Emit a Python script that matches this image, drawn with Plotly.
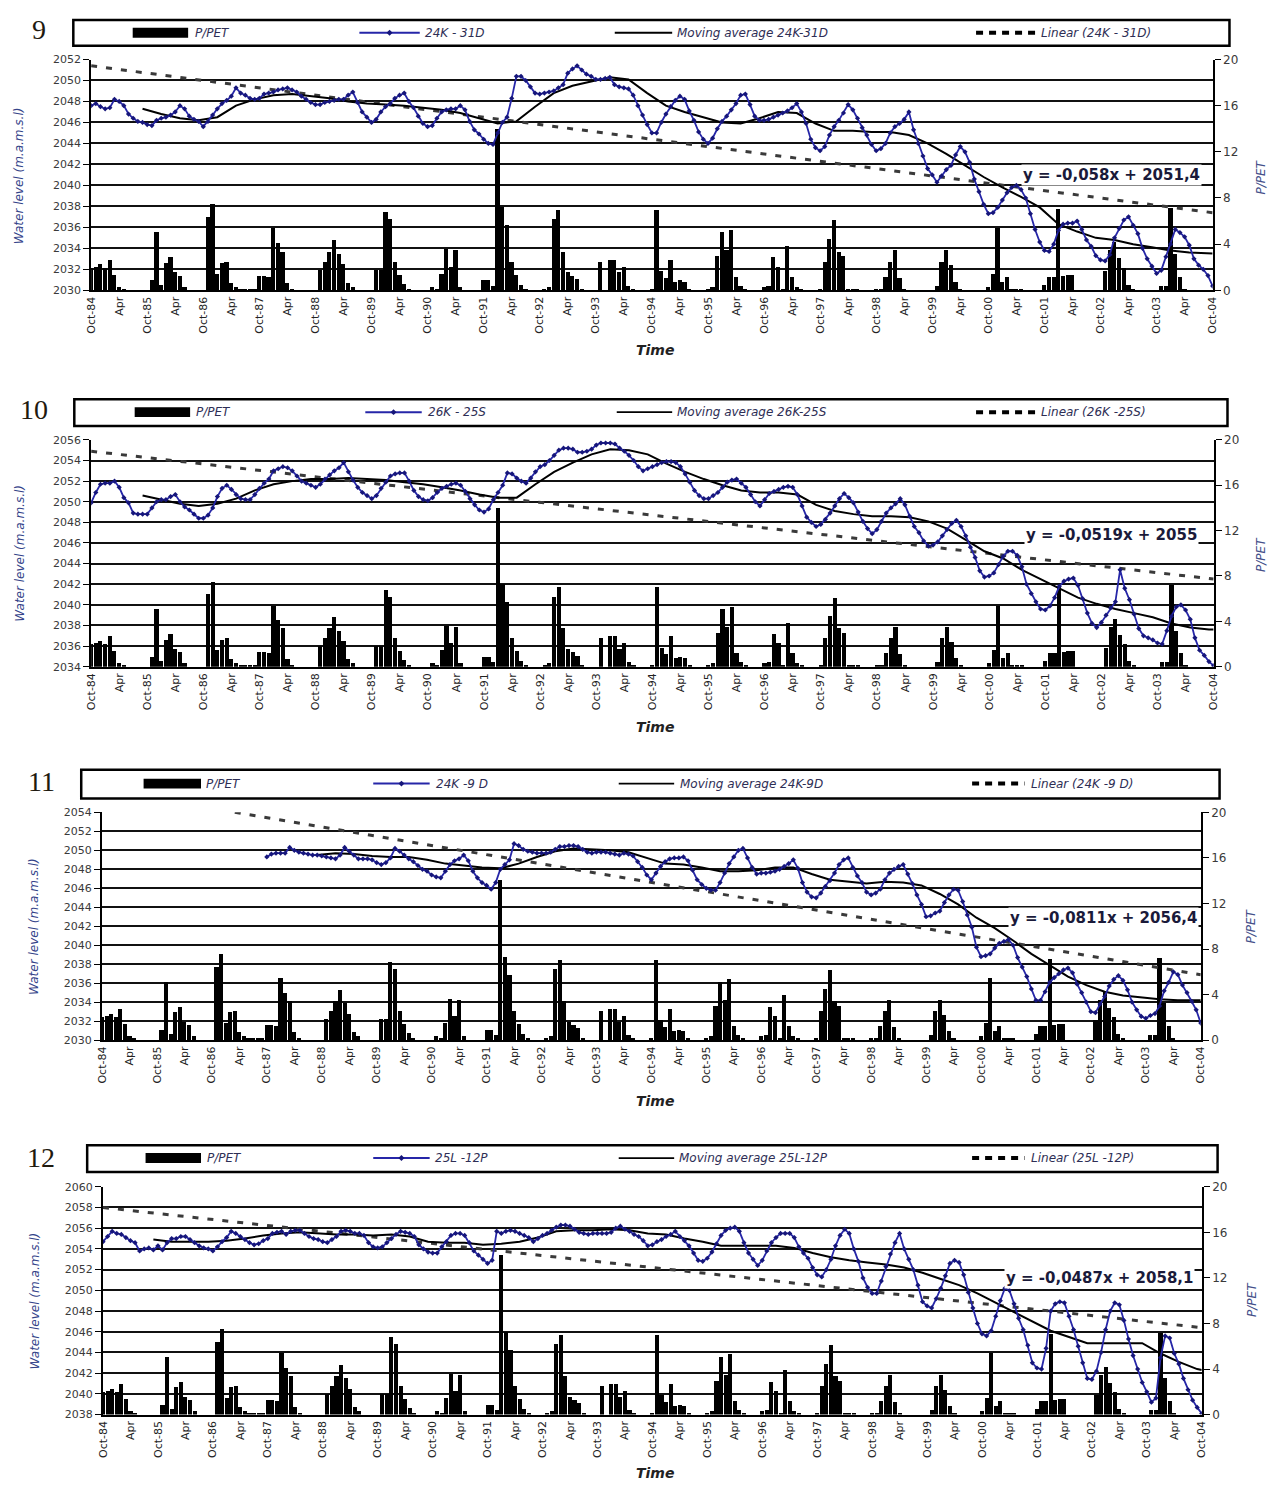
import plotly.graph_objects as go

W, H = 1282, 1487
FONT = "DejaVu Sans"

# ---------------- data ----------------
TICK_LABELS = ["Oct-84", "Apr", "Oct-85", "Apr", "Oct-86", "Apr", "Oct-87", "Apr", "Oct-88", "Apr",
               "Oct-89", "Apr", "Oct-90", "Apr", "Oct-91", "Apr", "Oct-92", "Apr", "Oct-93", "Apr",
               "Oct-94", "Apr", "Oct-95", "Apr", "Oct-96", "Apr", "Oct-97", "Apr", "Oct-98", "Apr",
               "Oct-99", "Apr", "Oct-00", "Apr", "Oct-01", "Apr", "Oct-02", "Apr", "Oct-03", "Apr",
               "Oct-04"]
TICK_MONTHS = list(range(0, 241, 6))
MONTHS = list(range(241))

P_PET = [2.0, 2.1, 2.3, 2.0, 2.7, 1.4, 0.3, 0.1, 0, 0, 0, 0,
         0, 0.9, 5.1, 0.5, 2.4, 2.9, 1.6, 1.3, 0.3, 0, 0, 0,
         0, 6.4, 7.5, 1.5, 2.4, 2.5, 0.7, 0.3, 0.1, 0.1, 0.2, 0.2,
         1.3, 1.3, 1.2, 5.4, 4.1, 3.4, 0.7, 0.1, 0, 0, 0, 0,
         0, 1.8, 2.5, 3.4, 4.4, 3.2, 2.3, 0.7, 0.3, 0, 0, 0,
         0, 1.8, 1.8, 6.8, 6.2, 2.5, 1.4, 0.6, 0.2, 0, 0, 0,
         0, 0.3, 0.1, 1.5, 3.6, 2.1, 3.5, 0.3, 0, 0, 0, 0,
         0.9, 0.9, 0.4, 14.0, 7.3, 5.7, 2.5, 1.4, 0.5, 0.1, 0, 0,
         0, 0.2, 0.3, 6.2, 7.0, 3.4, 1.6, 1.3, 1.0, 0.1, 0, 0,
         0, 2.5, 0, 2.7, 2.7, 1.6, 2.1, 0.4, 0.2, 0, 0, 0,
         0.2, 7.0, 1.7, 1.1, 2.7, 0.8, 0.9, 0.8, 0.1, 0, 0, 0,
         0.1, 0.3, 3.0, 5.1, 3.5, 5.3, 1.2, 0.4, 0.1, 0, 0, 0,
         0.3, 0.4, 2.9, 2.1, 0.2, 3.9, 1.2, 0.3, 0.1, 0, 0, 0,
         0.1, 2.5, 4.5, 6.1, 3.4, 3.0, 0.2, 0.2, 0.1, 0, 0, 0,
         0.1, 0.2, 1.2, 2.5, 3.5, 1.1, 0.2, 0, 0, 0, 0, 0,
         0, 0.4, 2.5, 3.5, 2.2, 0.8, 0.2, 0, 0, 0, 0, 0,
         0.3, 1.5, 5.4, 0.8, 1.2, 0.2, 0.1, 0.2, 0, 0, 0, 0,
         0.5, 1.2, 1.2, 7.1, 1.3, 1.4, 1.4, 0, 0, 0, 0, 0,
         0, 1.7, 3.5, 4.2, 2.8, 2.0, 0.5, 0.1, 0, 0, 0, 0,
         0, 0.4, 0.4, 7.2, 3.2, 1.2, 0.2, 0, 0, 0, 0, 0, 0]

WL9 = [2047.6, 2047.8, 2047.5, 2047.3, 2047.4, 2048.2, 2048.0, 2047.6, 2046.8, 2046.4, 2046.1, 2046.0,
       2045.8, 2045.7, 2046.2, 2046.4, 2046.5, 2046.7, 2047.0, 2047.6, 2047.3, 2046.6, 2046.3, 2046.1,
       2045.6, 2046.1, 2046.7, 2047.3, 2047.8, 2048.1, 2048.5, 2049.3, 2048.8, 2048.6, 2048.3, 2048.2,
       2048.3, 2048.7, 2048.8, 2048.9, 2049.1, 2049.2, 2049.3, 2049.1, 2048.9, 2048.5, 2048.2, 2047.9,
       2047.7, 2047.7, 2047.9, 2048.0, 2048.1, 2048.2, 2048.2, 2048.6, 2048.9, 2047.9, 2047.0, 2046.5,
       2046.0, 2046.3, 2047.0, 2047.5, 2047.8, 2048.3, 2048.6, 2048.8, 2048.0, 2047.4, 2046.6, 2045.9,
       2045.6, 2045.7, 2046.4, 2047.0, 2047.2, 2047.3, 2047.3, 2047.6, 2047.2, 2046.1, 2045.3, 2044.9,
       2044.4, 2044.0, 2043.9, 2045.0, 2046.0, 2046.5, 2048.3, 2050.4, 2050.4, 2050.0, 2049.4, 2048.8,
       2048.7, 2048.8, 2048.9, 2049.0, 2049.3, 2049.6, 2050.7, 2051.1, 2051.4, 2051.0, 2050.6, 2050.4,
       2050.1, 2050.1, 2050.2, 2050.3, 2049.6, 2049.4, 2049.3, 2049.2, 2048.6, 2047.6, 2046.7, 2045.8,
       2045.0, 2045.0, 2046.0, 2046.8, 2047.5, 2048.1, 2048.5, 2048.2, 2047.1, 2046.2, 2045.1, 2044.4,
       2044.0, 2044.5, 2045.4, 2046.1, 2046.6, 2047.2, 2047.8, 2048.6, 2048.7, 2047.7, 2046.6, 2046.2,
       2046.2, 2046.3, 2046.5, 2046.7, 2046.9, 2047.1, 2047.4, 2047.8, 2047.0, 2045.9, 2044.4, 2043.6,
       2043.3, 2043.7, 2044.8, 2045.6, 2046.2, 2046.9, 2047.7, 2047.2, 2046.4, 2045.5, 2044.8, 2043.9,
       2043.3, 2043.5, 2044.0, 2045.0, 2045.6, 2045.9, 2046.3, 2047.0, 2045.3, 2044.0, 2042.8, 2041.6,
       2041.0, 2040.3, 2040.9, 2041.5, 2041.9, 2042.9, 2043.7, 2043.2, 2042.2, 2040.6, 2039.4, 2038.2,
       2037.3, 2037.4, 2037.9, 2038.6, 2039.3, 2039.8, 2040.0, 2039.6, 2038.8, 2037.3, 2035.8, 2034.6,
       2033.8, 2033.7, 2034.4, 2035.7, 2036.3, 2036.4, 2036.4, 2036.6, 2035.8, 2034.8, 2034.2, 2033.3,
       2032.9, 2032.8, 2033.4, 2035.0, 2035.9, 2036.7, 2037.0, 2036.2, 2035.4, 2034.0, 2033.0, 2032.3,
       2031.6, 2031.9, 2033.2, 2034.4, 2035.8, 2035.5, 2035.1, 2034.3, 2033.0, 2032.4, 2032.0, 2031.4, 2030.4]

WL10 = [2049.9, 2050.9, 2051.7, 2051.8, 2051.8, 2052.0, 2051.4, 2050.4, 2049.9, 2048.9, 2048.8, 2048.8,
        2048.8, 2049.4, 2050.0, 2050.2, 2050.2, 2050.5, 2050.7, 2050.0, 2049.5, 2049.2, 2048.8, 2048.4,
        2048.4, 2048.7, 2049.4, 2050.5, 2051.3, 2051.6, 2051.2, 2050.7, 2050.3, 2050.2, 2050.2, 2050.7,
        2051.3, 2051.8, 2052.2, 2053.0, 2053.2, 2053.4, 2053.3, 2053.0, 2052.5, 2052.0, 2051.8, 2051.6,
        2051.4, 2051.7, 2052.2, 2052.6, 2053.0, 2053.3, 2053.8, 2052.9, 2052.1, 2051.4, 2050.9, 2050.6,
        2050.3, 2050.6, 2051.3, 2051.9, 2052.5, 2052.7, 2052.8, 2052.8, 2052.0, 2051.1, 2050.5, 2050.2,
        2050.1, 2050.4, 2050.9, 2051.3, 2051.5, 2051.7, 2051.8, 2051.6, 2051.0, 2050.3, 2049.7, 2049.2,
        2049.0, 2049.3, 2050.2, 2050.9, 2051.6, 2052.8, 2052.7, 2052.3, 2052.0, 2051.8, 2052.3, 2052.9,
        2053.4, 2053.6, 2054.0, 2054.5, 2055.0, 2055.2, 2055.2, 2055.1, 2054.8, 2054.8, 2054.9, 2055.1,
        2055.5, 2055.7, 2055.7, 2055.7, 2055.6, 2055.2, 2054.9, 2054.5, 2054.0, 2053.4, 2053.0, 2053.2,
        2053.4, 2053.6, 2053.8, 2053.9, 2053.9, 2053.8, 2053.4, 2052.7, 2051.9, 2051.1, 2050.6, 2050.3,
        2050.3, 2050.6, 2050.9, 2051.4, 2051.9, 2052.1, 2052.2, 2051.8, 2051.4, 2050.7, 2050.0, 2049.6,
        2050.2, 2050.8, 2051.0, 2051.2, 2051.4, 2051.5, 2051.4, 2050.7, 2049.6, 2048.5, 2048.0, 2047.6,
        2047.8, 2048.3, 2048.9, 2049.6, 2050.3, 2050.8, 2050.4, 2049.9, 2049.0, 2048.1, 2047.4, 2046.9,
        2047.3, 2048.1, 2048.9, 2049.4, 2049.8, 2050.3, 2049.7, 2048.6, 2047.6, 2047.0, 2046.2, 2045.7,
        2045.8, 2046.1, 2046.7, 2047.3, 2047.9, 2048.2, 2047.6, 2046.7, 2045.6, 2044.6, 2043.3, 2042.7,
        2042.8, 2043.1, 2043.9, 2044.7, 2045.2, 2045.2, 2044.8, 2043.7, 2042.0, 2041.1, 2040.3, 2039.6,
        2039.5, 2039.9, 2040.7, 2041.8, 2042.3, 2042.5, 2042.6, 2041.9, 2040.6, 2039.2, 2038.2, 2037.8,
        2038.3, 2039.0, 2039.7, 2040.3, 2043.4, 2041.6, 2040.5, 2039.1, 2037.7, 2037.0, 2036.8, 2036.6,
        2036.3, 2036.2, 2037.5, 2038.9, 2039.8, 2040.0, 2039.5, 2038.6, 2036.8, 2035.6, 2035.1, 2034.5, 2034.1]

WL11_START = 36  # first month with a reading (Oct-87)
WL11 = [2049.3, 2049.6, 2049.7, 2049.7, 2049.7, 2050.3, 2050.0, 2049.8, 2049.7, 2049.6, 2049.5, 2049.5,
        2049.4, 2049.3, 2049.2, 2049.1, 2049.5, 2050.3, 2049.9, 2049.5, 2049.1, 2049.1, 2049.1, 2049.0,
        2048.7, 2048.5, 2048.7, 2049.2, 2050.2, 2049.9, 2049.5, 2049.1, 2048.8, 2048.4, 2048.0, 2047.8,
        2047.4, 2047.2, 2047.1, 2047.8, 2048.5, 2048.9, 2049.1, 2049.5, 2048.9, 2047.8, 2047.1, 2046.6,
        2046.3, 2045.9, 2046.6, 2048.0, 2048.5, 2049.0, 2050.7, 2050.5, 2050.1, 2049.9, 2049.8, 2049.7,
        2049.7, 2049.7, 2049.8, 2050.1, 2050.4, 2050.4, 2050.5, 2050.5, 2050.4, 2050.1, 2049.8, 2049.7,
        2049.8, 2049.8, 2049.8, 2049.7, 2049.6, 2049.5, 2049.7, 2049.6, 2049.4, 2048.8, 2048.2, 2047.4,
        2046.9, 2047.6, 2048.3, 2048.8, 2049.1, 2049.2, 2049.2, 2049.3, 2048.9, 2047.9, 2046.9, 2046.4,
        2046.0, 2045.8, 2045.8, 2046.6, 2047.6, 2048.6, 2049.3, 2050.0, 2050.2, 2049.2, 2048.2, 2047.5,
        2047.6, 2047.6, 2047.7, 2047.8, 2048.0, 2048.3, 2048.6, 2049.0, 2048.1, 2046.6, 2045.6, 2045.1,
        2045.0, 2045.5, 2046.2, 2046.8, 2047.6, 2048.5, 2049.0, 2049.2, 2048.2, 2047.3, 2046.6, 2045.6,
        2045.3, 2045.5, 2045.9, 2046.9, 2047.6, 2048.0, 2048.3, 2048.5, 2047.5, 2046.5, 2045.3, 2044.3,
        2043.0, 2043.1, 2043.4, 2043.6, 2044.5, 2045.3, 2045.9, 2045.8, 2044.6, 2043.2, 2041.9, 2039.8,
        2038.8, 2038.9, 2039.1, 2039.7, 2040.2, 2040.4, 2040.6, 2040.0, 2038.7, 2037.7, 2036.7, 2035.4,
        2034.2, 2034.2, 2035.1, 2036.1, 2036.6, 2037.0, 2037.4, 2037.6, 2037.1, 2035.9, 2035.0, 2034.0,
        2033.0, 2032.9, 2033.8, 2034.6, 2035.7, 2036.4, 2036.8, 2036.3, 2035.3, 2034.0, 2033.2, 2032.5,
        2032.3, 2032.6, 2032.8, 2033.6, 2035.2, 2036.1, 2037.2, 2036.9, 2035.8, 2035.0, 2034.1, 2033.2, 2031.8]

WL12 = [2054.7, 2055.2, 2055.7, 2055.5, 2055.4, 2055.1, 2054.8, 2054.6, 2053.8, 2054.0, 2054.1, 2053.9,
        2054.3, 2053.9, 2054.6, 2055.0, 2055.0, 2055.2, 2055.2, 2054.9, 2054.6, 2054.3, 2054.1, 2054.0,
        2053.8, 2054.2, 2054.7, 2055.1, 2055.7, 2055.5, 2055.2, 2054.9, 2054.6, 2054.4, 2054.5, 2054.8,
        2055.0, 2055.5, 2055.6, 2055.7, 2055.4, 2055.7, 2055.8, 2055.8, 2055.5, 2055.2, 2055.0, 2054.9,
        2054.7, 2054.6, 2054.9, 2055.2, 2055.7, 2055.8, 2055.7, 2055.5, 2055.5, 2055.3, 2054.6, 2054.2,
        2054.1, 2054.2, 2054.6, 2055.0, 2055.4, 2055.7, 2055.6, 2055.5, 2055.2, 2054.4, 2054.0, 2053.7,
        2053.6, 2053.6, 2054.2, 2054.7, 2055.3, 2055.5, 2055.5, 2055.3, 2054.6, 2053.8, 2053.4, 2053.0,
        2052.6, 2052.9, 2055.7, 2055.5, 2055.7, 2055.8, 2055.7, 2055.5, 2055.3, 2055.1, 2054.7, 2055.0,
        2055.3, 2055.5, 2055.8, 2056.1, 2056.3, 2056.3, 2056.2, 2055.9, 2055.6, 2055.5, 2055.4, 2055.5,
        2055.5, 2055.5, 2055.5, 2055.6, 2056.0, 2056.2, 2055.9, 2055.7, 2055.4, 2055.2, 2054.8, 2054.3,
        2054.4, 2054.7, 2054.9, 2055.2, 2055.4, 2055.7, 2055.2, 2054.8, 2054.3, 2053.6, 2052.9, 2052.8,
        2053.1, 2053.7, 2054.5, 2055.3, 2055.8, 2056.0, 2056.1, 2055.7, 2054.6, 2053.6, 2053.0, 2052.4,
        2052.9, 2053.8, 2054.6, 2055.1, 2055.5, 2055.5, 2055.5, 2055.1, 2054.2, 2053.6, 2053.1, 2052.2,
        2051.5, 2051.3, 2052.0, 2053.0, 2054.3, 2055.3, 2055.9, 2055.5, 2054.0, 2052.8, 2051.2, 2050.3,
        2049.7, 2049.7, 2050.9, 2052.3, 2053.5, 2054.6, 2055.5, 2054.0, 2053.0, 2052.0, 2050.5, 2048.9,
        2048.5, 2048.3, 2049.2, 2050.2, 2051.4, 2052.6, 2052.9, 2052.7, 2051.5, 2049.8, 2048.3, 2046.8,
        2045.8, 2045.6, 2046.1, 2047.5, 2049.0, 2050.2, 2050.0, 2048.7, 2047.3, 2046.2, 2044.7, 2043.0,
        2042.5, 2042.4, 2044.4, 2048.0, 2048.7, 2048.9, 2048.8, 2047.5, 2046.2, 2044.6, 2043.0, 2041.5,
        2041.4, 2042.2, 2044.0, 2046.2, 2048.0, 2048.8, 2048.6, 2047.1, 2045.3, 2043.7, 2042.4, 2041.1,
        2040.2, 2039.2, 2039.6, 2043.5, 2045.6, 2045.4, 2043.9, 2042.9, 2041.5, 2040.4, 2039.4, 2038.7, 2038.1]

# moving-average curves every 4 months
MA_X_FULL = list(range(11, 240, 4)) + [240]
MA_X_11 = list(range(47, 240, 4)) + [240]
MA9 = [2047.3, 2046.8, 2046.4, 2046.2, 2046.5, 2047.6, 2048.2, 2048.6, 2048.7, 2048.5,
       2048.3, 2048.0, 2047.8, 2047.7, 2047.6, 2047.4, 2047.2, 2046.9, 2046.4, 2045.9,
       2046.1, 2047.5, 2048.8, 2049.5, 2049.9, 2050.3, 2050.1, 2048.8, 2047.6, 2047.0,
       2046.5, 2046.0, 2045.9, 2046.4, 2047.0, 2046.9, 2045.9, 2045.2, 2045.2, 2045.1,
       2045.1, 2044.8, 2044.0, 2043.0, 2041.9, 2040.8, 2039.8, 2038.9, 2037.9, 2036.3,
       2035.6, 2035.0, 2034.8, 2034.4, 2034.1, 2033.8, 2033.6, 2033.5, 2033.5]
MA10 = [2050.6, 2050.2, 2049.8, 2049.6, 2049.8, 2050.3, 2051.1, 2051.7, 2052.0, 2052.2,
        2052.2, 2052.3, 2052.2, 2052.1, 2051.9, 2051.7, 2051.4, 2051.1, 2050.7, 2050.4,
        2050.4, 2051.7, 2052.9, 2053.8, 2054.6, 2055.1, 2055.0, 2054.6, 2053.7, 2052.9,
        2052.2, 2051.6, 2051.1, 2050.9, 2050.9, 2050.7, 2049.7, 2049.1, 2048.8, 2048.6,
        2048.6, 2048.5, 2048.1, 2047.4, 2046.3, 2045.2, 2044.5, 2043.4, 2042.5, 2041.6,
        2040.7, 2040.1, 2039.6, 2039.2, 2038.8, 2038.2, 2037.8, 2037.6, 2037.6]
MA11 = [2049.5, 2049.7, 2049.6, 2049.4, 2049.3, 2049.3, 2049.0, 2048.6, 2048.4, 2048.2,
        2048.1, 2048.6, 2049.3, 2049.9, 2050.2, 2050.1, 2050.0, 2049.8, 2049.2, 2048.6,
        2048.5, 2048.2, 2047.8, 2047.8, 2047.9, 2048.2, 2048.2, 2047.5, 2046.9, 2046.7,
        2046.5, 2046.7, 2046.6, 2046.3, 2045.4, 2044.3, 2042.9, 2041.8, 2040.5, 2039.1,
        2037.9, 2036.7, 2035.8, 2035.1, 2034.7, 2034.5, 2034.3, 2034.2, 2034.2, 2034.2]
MA12 = [2054.9, 2054.7, 2054.7, 2054.7, 2054.8, 2055.0, 2055.3, 2055.5, 2055.6, 2055.5,
        2055.4, 2055.4, 2055.3, 2055.4, 2055.2, 2054.7, 2054.6, 2054.6, 2054.4, 2054.5,
        2054.7, 2055.1, 2055.7, 2055.8, 2055.8, 2055.9, 2055.8, 2055.5, 2055.4, 2055.0,
        2054.7, 2054.3, 2054.3, 2054.3, 2054.3, 2054.1, 2053.6, 2053.2, 2052.9, 2052.7,
        2052.5, 2052.2, 2051.7, 2051.1, 2050.5, 2049.7, 2048.8, 2047.9, 2047.0, 2046.1,
        2045.5, 2044.9, 2044.9, 2044.9, 2044.9, 2043.9, 2043.1, 2042.4, 2042.3]

# linear trend lines (end points)
TREND_X = [[0, 240], [0, 240], [29, 240], [0, 240]]
TREND_Y = [[2051.4, 2037.4], [2054.9, 2042.5], [2054.0, 2036.9], [2058.0, 2046.4]]

WELLS = ["24K - 31D", "26K - 25S", "24K -9 D", "25L -12P"]
MA_NAMES = ["Moving average 24K-31D", "Moving average 26K-25S", "Moving average 24K-9D",
            "Moving average 25L-12P"]
LIN_NAMES = ["Linear (24K - 31D)", "Linear (26K -25S)", "Linear (24K -9 D)", "Linear (25L -12P)"]
EQUATIONS = ["y = -0,058x + 2051,4", "y = -0,0519x + 2055", "y = -0,0811x + 2056,4",
             "y = -0,0487x + 2058,1"]
PANEL_NUMS = ["9", "10", "11", "12"]
Y_RANGES = [(2030, 2052), (2034, 2056), (2030, 2054), (2038, 2060)]

WL_SERIES = [(MONTHS, WL9), (MONTHS, WL10),
             (list(range(WL11_START, WL11_START + len(WL11))), WL11), (MONTHS, WL12)]
MA_SERIES = [(MA_X_FULL, MA9), (MA_X_FULL, MA10), (MA_X_11, MA11), (MA_X_FULL, MA12)]

# ---------------- layout geometry (pixels) ----------------
GEOM = [
    dict(x0=86, x1=1219, y0=53, y1=286, box=(68, 13, 1236, 39), yc=26,
         leg=[(128, 184, 189), (357, 418, 421), (615, 673, 676), (980, 1040, 1044)],
         num=(33, 23), ytitle=(14, 170), rtitle=(1268, 172), eq=(1208, 170), time=(656, 346)),
    dict(x0=86, x1=1220, y0=437, y1=666, box=(69, 396, 1234, 423), yc=409,
         leg=[(130, 186, 190), (363, 420, 424), (617, 673, 676), (980, 1040, 1044)],
         num=(28, 406), ytitle=(14, 551), rtitle=(1268, 553), eq=(1205, 533), time=(656, 727)),
    dict(x0=97, x1=1207, y0=813, y1=1043, box=(76, 770, 1226, 799), yc=784,
         leg=[(139, 197, 200), (371, 428, 432), (619, 675, 679), (976, 1029, 1033)],
         num=(36, 782), ytitle=(29, 928), rtitle=(1258, 928), eq=(1205, 920), time=(656, 1104)),
    dict(x0=98, x1=1208, y0=1191, y1=1421, box=(82, 1149, 1224, 1176), yc=1162,
         leg=[(141, 197, 201), (371, 428, 431), (619, 675, 678), (976, 1029, 1033)],
         num=(35, 1161), ytitle=(29, 1306), rtitle=(1258, 1305), eq=(1201, 1283), time=(656, 1480)),
]


def px(x):
    return x / W


def py(y):
    return 1 - y / H


BLUE = "#2626a8"
BLUE_MK = "#16167a"
TXT = "#2e2e55"
TICKC = "#3a3a3a"

fig = go.Figure()
shapes = []
annotations = []
layout = {}

for i, g in enumerate(GEOM):
    n = i + 1
    xname = "x" if n == 1 else f"x{n}"
    xkey = "xaxis" if n == 1 else f"xaxis{n}"
    yb = 2 * i + 1
    yo = 2 * i + 2
    ybname = "y" if yb == 1 else f"y{yb}"
    ybkey = "yaxis" if yb == 1 else f"yaxis{yb}"
    yoname = f"y{yo}"
    yokey = f"yaxis{yo}"

    # bars (P/PET) on the right-hand axis (base axis, drawn underneath)
    fig.add_trace(go.Bar(x=MONTHS, y=P_PET, xaxis=xname, yaxis=ybname, width=0.9,
                         marker=dict(color="black", line=dict(width=0)), showlegend=False,
                         name="P/PET"))
    # linear trend
    fig.add_trace(go.Scatter(x=TREND_X[i], y=TREND_Y[i], xaxis=xname, yaxis=yoname,
                             mode="lines", line=dict(color="#3a3a3a", width=3, dash="6px,9px"),
                             showlegend=False, name=LIN_NAMES[i]))
    # moving average
    mx, mv = MA_SERIES[i]
    fig.add_trace(go.Scatter(x=mx, y=mv, xaxis=xname, yaxis=yoname, mode="lines",
                             line=dict(color="black", width=2), showlegend=False,
                             name=MA_NAMES[i]))
    # water level
    wx, wv = WL_SERIES[i]
    fig.add_trace(go.Scatter(x=wx, y=wv, xaxis=xname, yaxis=yoname, mode="lines+markers",
                             line=dict(color=BLUE, width=1.8),
                             marker=dict(symbol="diamond", size=4, color=BLUE_MK),
                             showlegend=False, name=WELLS[i]))

    xd = [px(g["x0"]), px(g["x1"])]
    yd = [py(g["y1"]), py(g["y0"])]
    layout[xkey] = dict(domain=xd, anchor=ybname, range=[0, 240], tickmode="array",
                        tickvals=TICK_MONTHS, ticktext=TICK_LABELS, tickangle=-90,
                        tickfont=dict(family=FONT, size=11, color="#222"), showgrid=False,
                        zeroline=False, showline=True, linecolor="black", linewidth=2,
                        ticks="", fixedrange=True)
    layout[ybkey] = dict(domain=yd, anchor=xname, side="right", range=[0, 20], dtick=4,
                         showgrid=False, zeroline=False, showline=True, linecolor="black",
                         linewidth=2, ticks="outside", ticklen=6, tickcolor="black",
                         tickfont=dict(family=FONT, size=12, color=TICKC))
    lo, hi = Y_RANGES[i]
    layout[yokey] = dict(overlaying=ybname, anchor=xname, side="left", range=[lo, hi], dtick=2,
                         showgrid=True, gridcolor="#111", gridwidth=2, zeroline=False,
                         showline=True, linecolor="black", linewidth=2, ticks="outside",
                         ticklen=6, tickcolor="black",
                         tickfont=dict(family=FONT, size=11, color=TICKC))

    # legend box
    bx0, by0, bx1, by1 = g["box"]
    shapes.append(dict(type="rect", xref="paper", yref="paper", x0=px(bx0), x1=px(bx1),
                       y0=py(by1), y1=py(by0), line=dict(color="black", width=2.5),
                       fillcolor="white", layer="above"))
    yc = g["yc"]
    (a0, a1, at), (b0, b1, bt), (c0, c1, ct), (d0, d1, dt) = g["leg"]
    shapes.append(dict(type="rect", xref="paper", yref="paper", x0=px(a0), x1=px(a1),
                       y0=py(yc + 5), y1=py(yc - 5), line=dict(width=0), fillcolor="black"))
    shapes.append(dict(type="line", xref="paper", yref="paper", x0=px(b0), x1=px(b1),
                       y0=py(yc), y1=py(yc), line=dict(color=BLUE, width=2)))
    mxp = (b0 + b1) / 2
    shapes.append(dict(type="path", xref="paper", yref="paper",
                       path=f"M {px(mxp - 3)},{py(yc)} L {px(mxp)},{py(yc - 3)} "
                            f"L {px(mxp + 3)},{py(yc)} L {px(mxp)},{py(yc + 3)} Z",
                       fillcolor=BLUE_MK, line=dict(width=0)))
    shapes.append(dict(type="line", xref="paper", yref="paper", x0=px(c0), x1=px(c1),
                       y0=py(yc), y1=py(yc), line=dict(color="black", width=1.8)))
    shapes.append(dict(type="line", xref="paper", yref="paper", x0=px(d0), x1=px(d1),
                       y0=py(yc), y1=py(yc), line=dict(color="black", width=4, dash="7px,6px")))
    for tx, txt in [(at, "P/PET"), (bt, WELLS[i]), (ct, MA_NAMES[i]), (dt, LIN_NAMES[i])]:
        annotations.append(dict(x=px(tx), y=py(yc), xref="paper", yref="paper", text=f"<i>{txt}</i>",
                                showarrow=False, xanchor="left", yanchor="middle",
                                font=dict(family=FONT, size=12, color=TXT)))

    # panel number
    annotations.append(dict(x=px(g["num"][0]), y=py(g["num"][1]), xref="paper", yref="paper",
                            text=PANEL_NUMS[i], showarrow=False, xanchor="center",
                            yanchor="middle",
                            font=dict(family="Liberation Serif", size=28, color="#1f1a10")))
    # axis titles
    annotations.append(dict(x=px(g["ytitle"][0]), y=py(g["ytitle"][1]), xref="paper", yref="paper",
                            text="<i>Water level (m.a.m.s.l)</i>", textangle=-90, showarrow=False,
                            xanchor="center", yanchor="middle",
                            font=dict(family=FONT, size=12, color="#34448a")))
    annotations.append(dict(x=px(g["rtitle"][0]), y=py(g["rtitle"][1]), xref="paper", yref="paper",
                            text="<i>P/PET</i>", textangle=-90, showarrow=False,
                            xanchor="center", yanchor="middle",
                            font=dict(family=FONT, size=12, color="#44508a")))
    annotations.append(dict(x=px(g["time"][0]), y=py(g["time"][1]), xref="paper", yref="paper",
                            text="<b><i>Time</i></b>", showarrow=False, xanchor="center",
                            yanchor="middle", font=dict(family=FONT, size=14, color="#222")))
    # trend equation
    annotations.append(dict(x=px(g["eq"][0]), y=py(g["eq"][1]), xref="paper", yref="paper",
                            text=f"<b>{EQUATIONS[i]}</b>", showarrow=False, xanchor="right",
                            yanchor="middle", bgcolor="white", borderpad=1,
                            font=dict(family=FONT, size=15, color="#1a1a3a")))

layout.update(dict(width=W, height=H, margin=dict(l=0, r=0, t=0, b=0),
                   paper_bgcolor="white", plot_bgcolor="white", showlegend=False,
                   bargap=0, shapes=shapes, annotations=annotations,
                   font=dict(family=FONT)))
fig.update_layout(**layout)
fig.write_html("out.html", include_plotlyjs=True, config=dict(displayModeBar=False))
